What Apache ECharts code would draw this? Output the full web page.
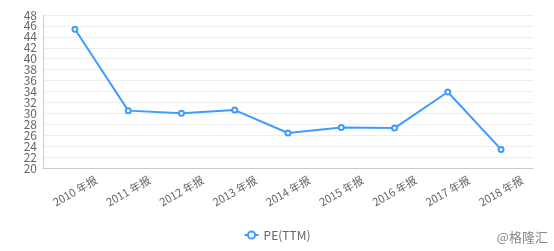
<!DOCTYPE html>
<html><head><meta charset="utf-8">
<script src="https://cdn.jsdelivr.net/npm/echarts@6/dist/echarts.min.js"></script>
<style>html,body{margin:0;padding:0;background:#fff}#c{width:554px;height:251px}</style>
</head><body><div id="c"></div>
<script>
const categories = ['2010 年报','2011 年报','2012 年报','2013 年报','2014 年报','2015 年报','2016 年报','2017 年报','2018 年报'];
const peValues = [45.4, 30.5, 30.0, 30.6, 26.4, 27.4, 27.3, 33.9, 23.4];
const yTicks = [20, 22, 24, 26, 28, 30, 32, 34, 36, 38, 40, 42, 44, 46, 48];
const seriesName = 'PE(TTM)';
const watermark = '@格隆汇';

const chart = echarts.init(document.getElementById('c'));
const font = '"Noto Sans CJK SC", "Noto Sans", sans-serif';
const yMin = yTicks[0], yMax = yTicks[yTicks.length - 1];
const yLabelStyle = {color: '#666', fontSize: 12, margin: 6, fontFamily: font, hideOverlap: false};
chart.setOption({
  animation: false,
  grid: {left: 43, right: 21, top: 15, bottom: 83},
  xAxis: {
    type: 'value', min: -0.6, max: 8.6,
    splitLine: {show: false},
    axisLine: {show: true, onZero: false, lineStyle: {color: '#ccc'}},
    axisTick: {show: false},
    axisLabel: {
      customValues: categories.map((c, i) => i),
      formatter: v => categories[Math.round(v)],
      rotate: 30, align: 'center', margin: 23,
      color: '#666', fontSize: 11, fontFamily: font
    }
  },
  yAxis: [{
    type: 'value', min: yMin, max: yMax, interval: 2, position: 'left',
    axisLine: {show: true, onZero: false, lineStyle: {color: '#ccc'}},
    axisTick: {show: false},
    splitLine: {lineStyle: {color: '#eee'}},
    axisLabel: Object.assign({customValues: yTicks.filter((v, i) => i % 2 === 0)}, yLabelStyle)
  }, {
    type: 'value', min: yMin, max: yMax, interval: 2, position: 'left', offset: 0,
    axisLine: {show: false, onZero: false},
    axisTick: {show: false},
    splitLine: {show: false},
    axisLabel: Object.assign({customValues: yTicks.filter((v, i) => i % 2 === 1)}, yLabelStyle)
  }],
  legend: {
    bottom: 5, left: 'center', data: [seriesName],
    itemWidth: 14, itemHeight: 9, itemGap: 10,
    textStyle: {color: '#666', fontSize: 12, fontFamily: font}
  },
  graphic: [{
    type: 'text', right: 6, bottom: 7,
    style: {text: watermark, fill: '#888', fontSize: 13, fontFamily: font}
  }],
  series: [{
    name: seriesName, type: 'line', yAxisIndex: 0,
    data: peValues.map((v, i) => [i, v]),
    symbol: 'emptyCircle', symbolSize: 5,
    lineStyle: {color: '#3f9cff', width: 2},
    itemStyle: {color: '#3f9cff'}
  }]
});
</script></body></html>
